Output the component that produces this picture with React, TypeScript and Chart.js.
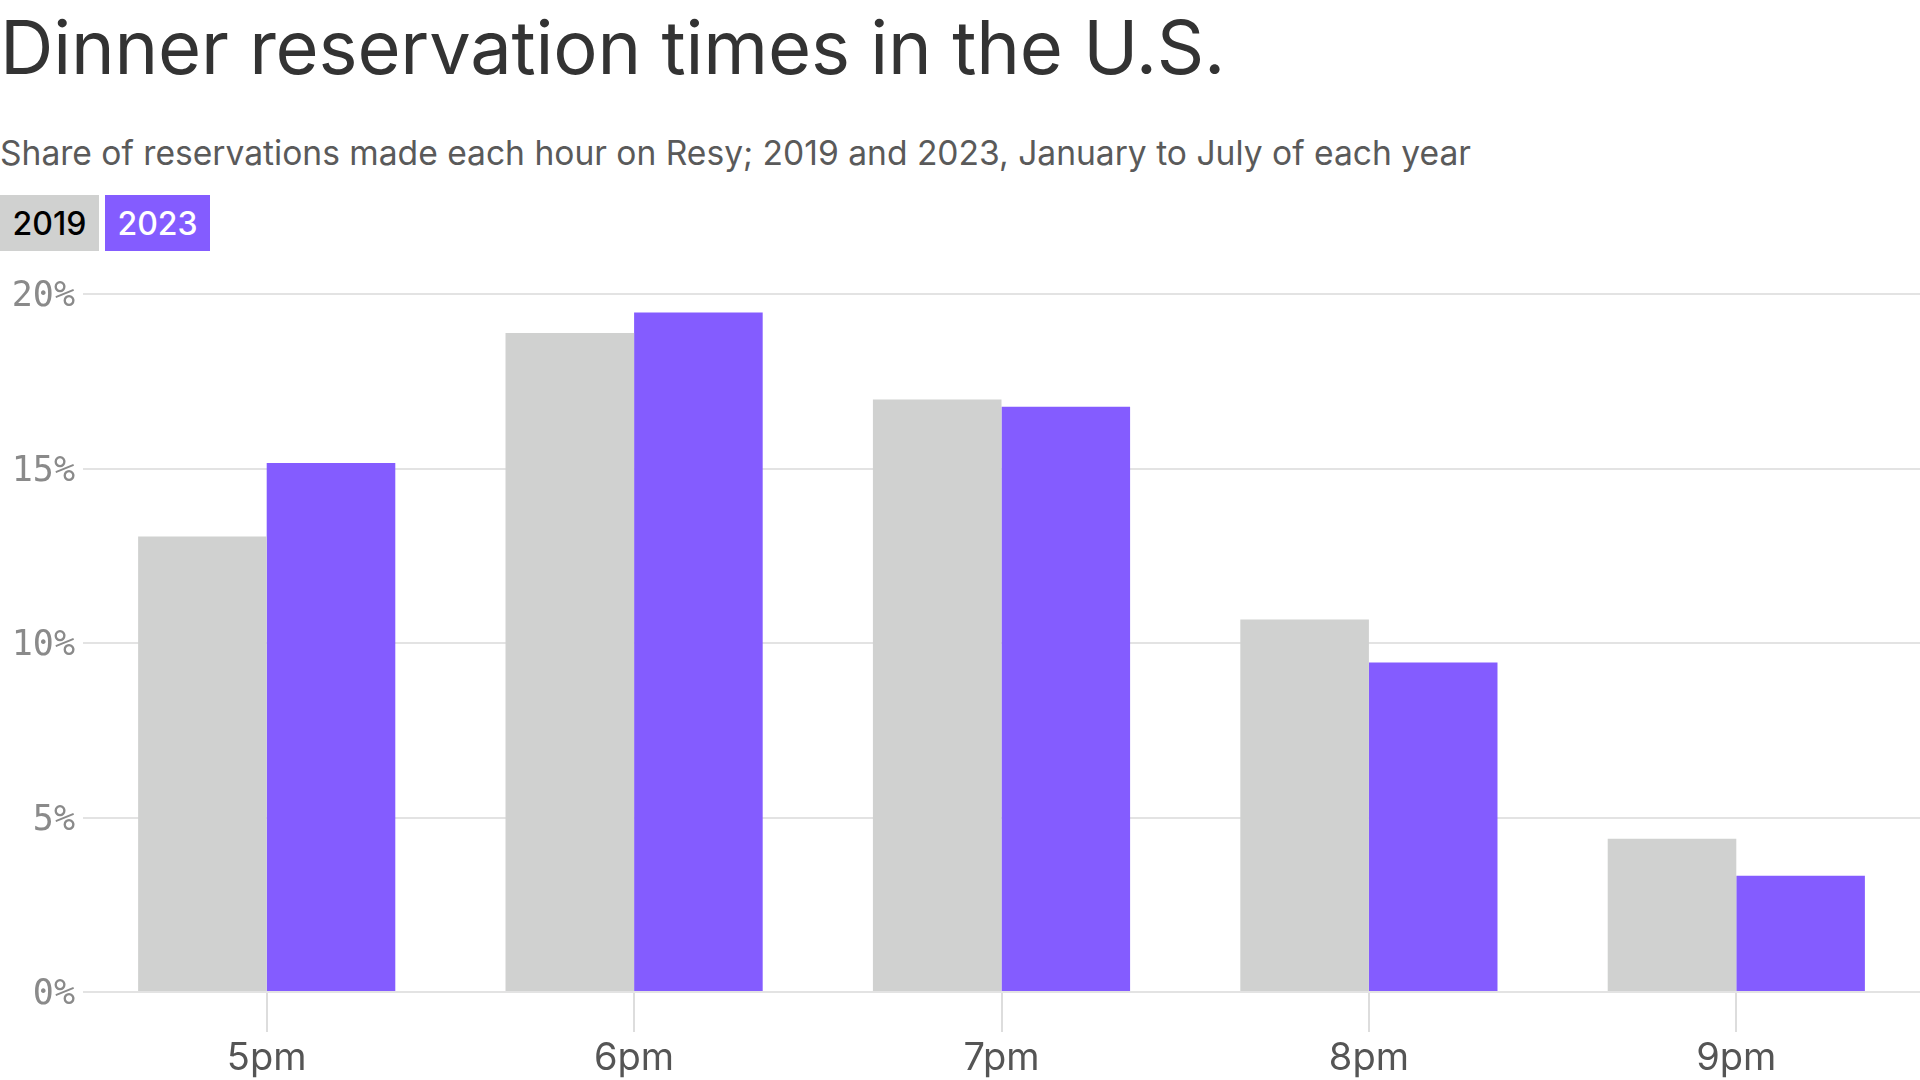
import React, { useEffect, useRef } from "react";
import { Chart, registerables } from "chart.js";

Chart.register(...registerables);

const categories = ["5pm", "6pm", "7pm", "8pm", "9pm"];
const series2019 = [13.05, 18.88, 16.98, 10.67, 4.39];
const series2023 = [15.16, 19.47, 16.77, 9.44, 3.33];
const yTicks = [0, 5, 10, 15, 20];

const GRAY = "#d0d1d0";
const PURPLE = "#845cff";

export default function App() {
  const ref = useRef<HTMLCanvasElement | null>(null);

  useEffect(() => {
    document.body.style.margin = "0";
    const canvas = ref.current;
    if (!canvas) return;
    const chart = new Chart(canvas, {
      type: "bar",
      data: {
        labels: categories,
        datasets: [
          { label: "2019", data: series2019, backgroundColor: GRAY, categoryPercentage: 0.7, barPercentage: 1 },
          { label: "2023", data: series2023, backgroundColor: PURPLE, categoryPercentage: 0.7, barPercentage: 1 },
        ],
      },
      options: {
        animation: false,
        responsive: false,
        maintainAspectRatio: false,
        layout: { padding: { top: 34, left: 0, right: 0, bottom: 0 } },
        plugins: { legend: { display: false }, tooltip: { enabled: false }, title: { display: false } },
        scales: {
          x: {
            grid: {
              drawOnChartArea: false,
              drawTicks: true,
              tickLength: 40,
              offset: false,
              color: "#dddddd",
              lineWidth: 2,
            },
            border: { display: false },
            ticks: {
              color: "#555555",
              font: { family: "Inter", size: 38 },
              padding: 4,
              maxRotation: 0,
            },
            afterFit: (scale: any) => {
              scale.height = 88;
            },
          },
          y: {
            min: 0,
            max: 20,
            afterBuildTicks: (scale: any) => {
              scale.ticks = yTicks.map((v) => ({ value: v }));
            },
            grid: { color: "#e3e3e3", lineWidth: 2, drawTicks: false },
            border: { display: false },
            ticks: {
              color: "#8a8a8a",
              font: { family: "DejaVu Sans Mono", size: 35 },
              padding: 8,
              labelOffset: 3,
              callback: (v: any) => `${v}%`,
            },
            afterFit: (scale: any) => {
              scale.width = 83;
            },
          },
        },
      },
    });
    return () => chart.destroy();
  }, []);

  return (
    <div style={{ position: "fixed", left: 0, top: 0, width: 1920, height: 1080, background: "#fff", overflow: "hidden" }}>
      <div
        style={{
          position: "absolute",
          left: 0,
          top: 10,
          fontFamily: "Inter",
          fontSize: 74,
          lineHeight: "74px",
          color: "#333333",
          whiteSpace: "nowrap",
          letterSpacing: "-0.2px",
        }}
      >
        Dinner reservation times in the U.S.
      </div>
      <div
        style={{
          position: "absolute",
          left: 0,
          top: 136,
          fontFamily: "Inter",
          fontSize: 33.6,
          lineHeight: "33.6px",
          color: "#5a5a5a",
          whiteSpace: "nowrap",
        }}
      >
        Share of reservations made each hour on Resy; 2019 and 2023, January to July of each year
      </div>
      <div style={{ position: "absolute", left: 0, top: 195, display: "flex", gap: 6 }}>
        <div
          style={{
            width: 99,
            height: 56,
            background: GRAY,
            color: "#000",
            fontFamily: "Inter",
            fontWeight: 500,
            fontSize: 32,
            display: "flex",
            alignItems: "center",
            justifyContent: "center",
          }}
        >
          2019
        </div>
        <div
          style={{
            width: 105,
            height: 56,
            background: PURPLE,
            color: "#fff",
            fontFamily: "Inter",
            fontWeight: 500,
            fontSize: 32,
            display: "flex",
            alignItems: "center",
            justifyContent: "center",
          }}
        >
          2023
        </div>
      </div>
      <canvas ref={ref} width={1920} height={820} style={{ position: "absolute", left: 0, top: 260, width: 1920, height: 820 }} />
    </div>
  );
}
